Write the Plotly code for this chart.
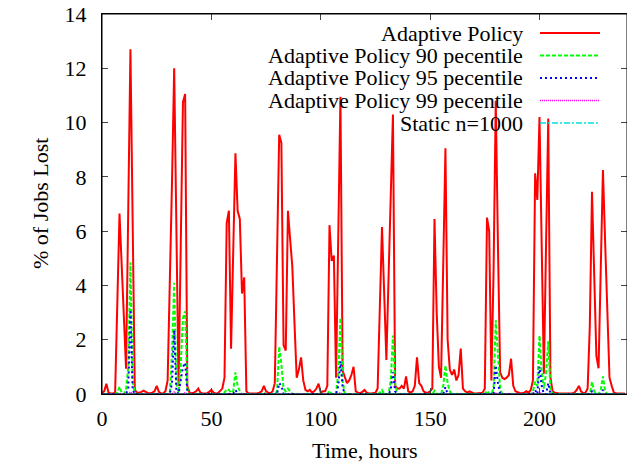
import plotly.graph_objects as go

hours = list(range(240))

adaptive = [
    0.05, 0.1, 0.38, 0.05, 0.02, 0.02, 0.05, 3.3, 6.65, 4.75,
    2.85, 0.93, 6.8, 12.7, 6.4, 0.15, 0.05, 0.05, 0.08, 0.12,
    0.08, 0.03, 0.03, 0.05, 0.1, 0.3, 0.08, 0.02, 0.02, 0.1,
    0.5, 3.8, 7.8, 12.0, 6.1, 0.3, 5.5, 10.75, 11.05, 0.3,
    0.05, 0.03, 0.05, 0.1, 0.2, 0.05, 0.02, 0.02, 0.03, 0.08,
    0.15, 0.05, 0.02, 0.03, 0.1, 0.2, 0.6, 6.3, 6.75, 1.67,
    5.3, 8.87, 6.75, 6.45, 3.7, 4.3, 0.1, 0.02, 0.02, 0.02,
    0.03, 0.02, 0.05, 0.1, 0.3, 0.1, 0.05, 0.03, 0.1, 0.4,
    5.0, 9.55, 9.25, 1.8, 1.6, 6.75, 5.7, 4.7, 2.6, 0.6,
    0.9, 1.35, 0.5, 0.15, 0.1, 0.15, 0.05, 0.1, 0.2, 0.38,
    0.05, 0.1, 0.1, 0.3, 6.22, 4.9, 5.1, 0.6, 5.8, 10.95,
    0.85, 0.6, 0.4, 0.5, 0.7, 1.0, 0.1, 0.05, 0.03, 0.08,
    0.15, 0.05, 0.02, 0.02, 0.03, 0.05, 0.2, 3.0, 6.15, 3.7,
    1.25, 4.3, 7.3, 10.3, 0.3, 0.2, 0.2, 0.3, 0.2, 0.65,
    0.1, 0.05, 0.1, 0.3, 1.35, 0.4, 0.3, 0.1, 0.05, 0.05,
    0.1, 0.2, 6.45, 3.0, 1.0, 0.6, 4.8, 9.05, 2.0, 0.9,
    0.7, 0.9, 0.5, 0.7, 1.67, 0.2, 0.1, 0.05, 0.1, 0.05,
    0.02, 0.02, 0.03, 0.02, 0.05, 0.2, 6.5, 6.0, 0.5, 4.5,
    10.8, 5.5, 0.8, 0.6, 0.55, 0.6, 0.7, 1.3, 0.3, 0.1,
    0.05, 0.03, 0.03, 0.05, 0.1, 0.05, 0.15, 0.5, 8.13, 7.15,
    10.2, 5.0, 0.75, 5.5, 10.15, 0.6, 0.1, 0.05, 0.03, 0.02,
    0.02, 0.02, 0.03, 0.02, 0.02, 0.03, 0.05, 0.15, 0.3, 0.1,
    0.03, 0.05, 0.2, 2.5, 7.45, 4.5, 1.4, 0.95, 5.0, 8.25,
    5.6, 2.9, 0.6, 0.3, 0.05, 0.03, 0.02, 0.02, 0.02, 0.02,
]

p90 = [
    0, 0, 0, 0, 0, 0, 0, 0.05, 0.27, 0.05,
    0, 0.15, 1.0, 4.85, 0.5, 0.02, 0, 0, 0, 0,
    0, 0, 0, 0, 0, 0, 0, 0, 0, 0,
    0, 0.05, 1.5, 4.1, 0.4, 0.05, 1.1, 2.8, 3.05, 0.2,
    0, 0, 0, 0, 0, 0, 0, 0, 0, 0,
    0, 0, 0, 0, 0, 0, 0.05, 0.18, 0.15, 0.05,
    0.1, 0.8, 0.3, 0.1, 0, 0, 0, 0, 0, 0,
    0, 0, 0, 0, 0.05, 0, 0, 0, 0, 0,
    0.1, 1.75, 1.1, 0.2, 0.1, 0.2, 0.1, 0, 0, 0,
    0, 0, 0, 0, 0, 0, 0, 0, 0, 0,
    0, 0, 0, 0, 0.12, 0, 0, 0, 0.8, 2.8,
    0.5, 0, 0, 0, 0, 0, 0, 0, 0, 0,
    0, 0, 0, 0, 0, 0, 0, 0.05, 0.15, 0,
    0, 0, 0.5, 2.15, 0.4, 0, 0, 0, 0, 0,
    0, 0, 0, 0, 0, 0, 0, 0, 0, 0,
    0, 0, 0.12, 0, 0, 0, 0.3, 1.05, 0.4, 0.1,
    0, 0, 0, 0, 0, 0, 0, 0, 0, 0,
    0, 0, 0, 0, 0, 0, 0.12, 0, 0, 0.2,
    2.72, 1.2, 0.2, 0, 0, 0, 0, 0, 0, 0,
    0, 0, 0, 0, 0, 0, 0, 0.1, 0.45, 0.3,
    2.15, 0.8, 0.2, 0.8, 1.95, 0.2, 0, 0, 0, 0,
    0, 0, 0, 0, 0, 0, 0, 0, 0, 0,
    0, 0, 0, 0, 0.45, 0.1, 0, 0, 0.15, 0.65,
    0.1, 0, 0, 0, 0, 0, 0, 0, 0, 0,
]

p95 = [
    0, 0, 0, 0, 0, 0, 0, 0, 0, 0,
    0, 0, 0.2, 3.1, 0.15, 0, 0, 0, 0, 0,
    0, 0, 0, 0, 0, 0, 0, 0, 0, 0,
    0, 0, 0.4, 2.35, 0.1, 0, 0.5, 1.0, 1.15, 0.1,
    0, 0, 0, 0, 0, 0, 0, 0, 0, 0,
    0, 0, 0, 0, 0, 0, 0, 0, 0, 0,
    0, 0.15, 0, 0, 0, 0, 0, 0, 0, 0,
    0, 0, 0, 0, 0, 0, 0, 0, 0, 0,
    0, 0.4, 0.3, 0, 0, 0, 0, 0, 0, 0,
    0, 0, 0, 0, 0, 0, 0, 0, 0, 0,
    0, 0, 0, 0, 0, 0, 0, 0, 0.3, 1.2,
    0.25, 0, 0, 0, 0, 0, 0, 0, 0, 0,
    0, 0, 0, 0, 0, 0, 0, 0, 0, 0,
    0, 0, 0.15, 0.8, 0.1, 0, 0, 0, 0, 0,
    0, 0, 0, 0, 0, 0, 0, 0, 0, 0,
    0, 0, 0, 0, 0, 0, 0, 0.25, 0, 0,
    0, 0, 0, 0, 0, 0, 0, 0, 0, 0,
    0, 0, 0, 0, 0, 0, 0, 0, 0, 0,
    1.05, 0.4, 0, 0, 0, 0, 0, 0, 0, 0,
    0, 0, 0, 0, 0, 0, 0, 0, 0.15, 0,
    1.0, 0.3, 0, 0, 0.4, 0, 0, 0, 0, 0,
    0, 0, 0, 0, 0, 0, 0, 0, 0, 0,
    0, 0, 0, 0, 0.1, 0, 0, 0, 0, 0.15,
    0, 0, 0, 0, 0, 0, 0, 0, 0, 0,
]

p99 = [
    0, 0, 0, 0, 0, 0, 0, 0, 0, 0,
    0, 0, 0, 0.08, 0, 0, 0, 0, 0, 0,
    0, 0, 0, 0, 0, 0, 0, 0, 0, 0,
    0, 0, 0, 0.08, 0, 0, 0, 0, 0.05, 0,
    0, 0, 0, 0, 0, 0, 0, 0, 0, 0,
    0, 0, 0, 0, 0, 0, 0, 0, 0, 0,
    0, 0, 0, 0, 0, 0, 0, 0, 0, 0,
    0, 0, 0, 0, 0, 0, 0, 0, 0, 0,
    0, 0, 0, 0, 0, 0, 0, 0, 0, 0,
    0, 0, 0, 0, 0, 0, 0, 0, 0, 0,
    0, 0, 0, 0, 0, 0, 0, 0, 0, 0.05,
    0, 0, 0, 0, 0, 0, 0, 0, 0, 0,
    0, 0, 0, 0, 0, 0, 0, 0, 0, 0,
    0, 0, 0, 0, 0, 0, 0, 0, 0, 0,
    0, 0, 0, 0, 0, 0, 0, 0, 0, 0,
    0, 0, 0, 0, 0, 0, 0, 0, 0, 0,
    0, 0, 0, 0, 0, 0, 0, 0, 0, 0,
    0, 0, 0, 0, 0, 0, 0, 0, 0, 0,
    0.05, 0, 0, 0, 0, 0, 0, 0, 0, 0,
    0, 0, 0, 0, 0, 0, 0, 0, 0, 0,
    0.05, 0, 0, 0, 0, 0, 0, 0, 0, 0,
    0, 0, 0, 0, 0, 0, 0, 0, 0, 0,
    0, 0, 0, 0, 0, 0, 0, 0, 0, 0,
    0, 0, 0, 0, 0, 0, 0, 0, 0, 0,
]

static_n1000 = [0.0] * len(hours)  # flat at zero throughout

series_names = [
    "Adaptive Policy",
    "Adaptive Policy 90 pecentile",
    "Adaptive Policy 95 pecentile",
    "Adaptive Policy 99 pecentile",
    "Static n=1000",
]
series_values = [adaptive, p90, p95, p99, static_n1000]
series_colors = ["#ff0000", "#00ff00", "#0000ff", "#ff00ff", "#00e0e0"]
series_dash = ["solid", "4px,2px", "2px,3px", "1px,1px", "6px,2px,2px,2px"]
series_width = [2, 2, 2, 1.5, 1.5]

x_ticks = [0, 50, 100, 150, 200]
y_ticks = [0, 2, 4, 6, 8, 10, 12, 14]

FONT = "Liberation Serif"
FS = 22
KEY_FS = 22

fig = go.Figure()
for name, vals, col, dash, w in zip(series_names, series_values, series_colors, series_dash, series_width):
    fig.add_trace(go.Scatter(x=hours, y=vals, mode="lines", name=name,
                             line=dict(color=col, dash=dash, width=w),
                             showlegend=False))

# The page body adds an 8px offset; place the figure so the plot area
# lands at screen pixels L..R, T..B.
OFF = 8
FIG_W, FIG_H = 635 - OFF, 466 - OFF
L, R, T, B = 102, 627, 14, 394
def px2x(px):
    return (px - L) / (R - L)
def px2y(py):
    return (B - py) / (B - T)

key_y = [33, 55.5, 78, 100.5, 123]
shapes = [dict(type="rect", xref="paper", yref="paper", x0=0, x1=1, y0=0, y1=1,
               line=dict(color="black", width=1), layer="above")]
annotations = []
for name, col, dash, w, ky in zip(series_names, series_colors, series_dash, series_width, key_y):
    annotations.append(dict(x=px2x(525), y=px2y(ky), xref="paper", yref="paper",
                            text=name, showarrow=False, xanchor="right", yanchor="middle",
                            font=dict(family=FONT, size=KEY_FS, color="black")))
    shapes.append(dict(type="line", xref="paper", yref="paper",
                       x0=px2x(540), x1=px2x(600), y0=px2y(ky), y1=px2y(ky),
                       line=dict(color=col, dash=dash, width=w)))

annotations.append(dict(x=px2x(365), y=px2y(450), xref="paper", yref="paper",
                        text="Time, hours", showarrow=False, xanchor="center", yanchor="middle",
                        font=dict(family=FONT, size=FS, color="black")))
annotations.append(dict(x=px2x(40), y=px2y(204), xref="paper", yref="paper",
                        text="% of Jobs Lost", showarrow=False, xanchor="center", yanchor="middle",
                        textangle=-90, font=dict(family=FONT, size=FS, color="black")))

fig.update_layout(
    width=FIG_W, height=FIG_H,
    margin=dict(l=L - OFF, r=635 - R, t=T - OFF, b=466 - B, autoexpand=False),
    paper_bgcolor="white", plot_bgcolor="white",
    font=dict(family=FONT, size=FS, color="black"),
    shapes=shapes, annotations=annotations,
    showlegend=False,
)
fig.update_xaxes(range=[0, 240], tickvals=x_ticks, ticks="inside", ticklen=6,
                 showline=True, linecolor="black", linewidth=1, mirror="allticks",
                 showgrid=False, zeroline=False, automargin=False,
                 tickfont=dict(family=FONT, size=FS), ticklabelstandoff=5,
                 ticklabeloverflow="allow")
fig.update_yaxes(range=[0, 14], tickvals=y_ticks, ticks="inside", ticklen=6,
                 showline=True, linecolor="black", linewidth=1, mirror="allticks",
                 showgrid=False, zeroline=False, automargin=False,
                 tickfont=dict(family=FONT, size=FS), ticklabelstandoff=10,
                 ticklabeloverflow="allow")

fig.write_html("out.html")
